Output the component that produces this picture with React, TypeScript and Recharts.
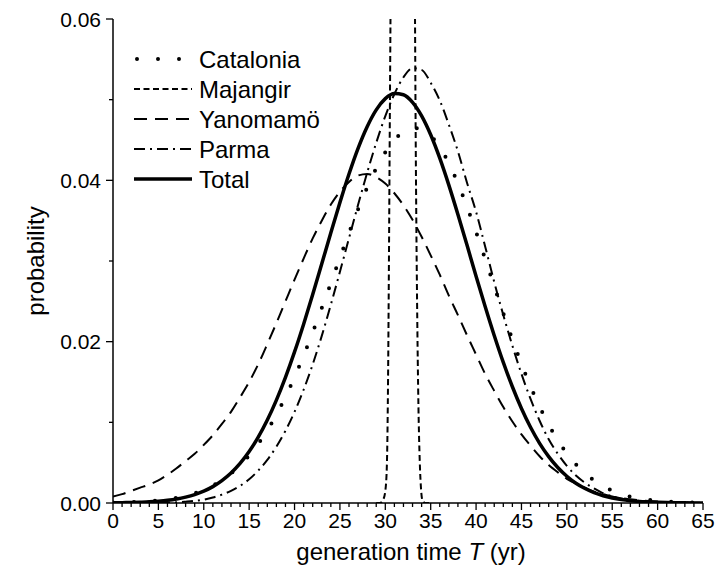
import { LineChart, Line, XAxis, YAxis, Legend } from 'recharts';

const FONT = '"Liberation Sans", Arial, Helvetica, sans-serif';

// generation time T (yr), one point per year
const years = [
  0, 1, 2, 3, 4, 5, 6, 7, 8, 9, 10, 11, 12, 13, 14, 15, 16, 17, 18, 19, 20, 21, 22,
  23, 24, 25, 26, 27, 28, 29, 30, 31, 32, 33, 34, 35, 36, 37, 38, 39, 40, 41, 42, 43,
  44, 45, 46, 47, 48, 49, 50, 51, 52, 53, 54, 55, 56, 57, 58, 59, 60, 61, 62, 63, 64, 65,
];

const catalonia = [
  0.00005, 0.00007, 0.00011, 0.00016, 0.00023, 0.00033, 0.00047, 0.00065, 0.00089, 0.00121,
  0.00163, 0.00216, 0.00283, 0.00365, 0.00467, 0.00588, 0.00733, 0.00902, 0.01096, 0.01316,
  0.0156, 0.01827, 0.02114, 0.02416, 0.02726, 0.0304, 0.03347, 0.0364, 0.03909, 0.04149,
  0.04348, 0.045, 0.04602, 0.04647, 0.04634, 0.04554, 0.04411, 0.04211, 0.03962, 0.03674,
  0.03359, 0.03026, 0.02687, 0.02352, 0.02028, 0.01724, 0.01445, 0.01193, 0.00971, 0.00779,
  0.00616, 0.0048, 0.00369, 0.00279, 0.00208, 0.00153, 0.00111, 0.00079, 0.00056, 0.00039,
  0.00027, 0.00018, 0.00012, 0.00008, 0.00005, 0.00003,
];

const yanomamo = [
  0.0008, 0.0011, 0.0015, 0.0019, 0.0023, 0.0028, 0.0035, 0.0043, 0.0052, 0.0061,
  0.0072, 0.0084, 0.0098, 0.0113, 0.0131, 0.015, 0.0172, 0.0197, 0.0223, 0.025,
  0.0277, 0.0303, 0.0328, 0.035, 0.037, 0.0386, 0.0398, 0.0406, 0.0408, 0.0404,
  0.0396, 0.0384, 0.0369, 0.0351, 0.033, 0.0307, 0.0283, 0.0257, 0.0233, 0.0208,
  0.0184, 0.016, 0.0139, 0.0119, 0.0101, 0.0085, 0.0071, 0.0058, 0.0047, 0.0038,
  0.003, 0.0024, 0.0019, 0.0014, 0.0011, 0.0008, 0.0006, 0.00046, 0.00034, 0.00025,
  0.00018, 0.00013, 0.00009, 0.00006, 0.00004, 0.00003,
];

const parma = [
  0, 0.00001, 0.00001, 0.00001, 0.00002, 0.00003, 0.00004, 0.00008, 0.00016, 0.00026,
  0.00042, 0.00068, 0.00104, 0.0015, 0.00212, 0.00294, 0.00402, 0.00534, 0.00698, 0.00896,
  0.0113, 0.01404, 0.01718, 0.02072, 0.0246, 0.02866, 0.03282, 0.03696, 0.04094, 0.04466,
  0.04796, 0.0507, 0.05278, 0.0539, 0.0537, 0.0521, 0.0499, 0.0469, 0.0436, 0.0397,
  0.0361, 0.0318, 0.0274, 0.0233, 0.0195, 0.016, 0.0129, 0.0102, 0.0079, 0.0061,
  0.0046, 0.0034, 0.0025, 0.0018, 0.0012, 0.00084, 0.00057, 0.00038, 0.00025, 0.00016,
  0.0001, 0.00006, 0.00003, 0.00002, 0.00001, 0.00001,
];

const total = [
  0.00002, 0.00004, 0.00006, 0.0001, 0.00015, 0.00023, 0.00034, 0.0005, 0.00073, 0.00104,
  0.00147, 0.00203, 0.00277, 0.00371, 0.0049, 0.00637, 0.00816, 0.01028, 0.01276, 0.01558,
  0.01873, 0.02217, 0.02584, 0.02966, 0.0335, 0.03726, 0.04079, 0.04397, 0.04665, 0.04874,
  0.05013, 0.05076, 0.05061, 0.04967, 0.04799, 0.04565, 0.04275, 0.03941, 0.03577, 0.03197,
  0.02812, 0.02436, 0.02077, 0.01743, 0.01441, 0.01172, 0.00939, 0.0074, 0.00575, 0.0044,
  0.00331, 0.00245, 0.00179, 0.00128, 0.0009, 0.00063, 0.00043, 0.00029, 0.00019, 0.00013,
  0.00008, 0.00005, 0.00003, 0.00002, 0.00001, 0.00001,
];

// Majangir is very narrow and runs off the top of the plot
const majangirYears = [
  29.0, 29.4, 29.8, 30.05, 30.2, 30.3, 30.4, 30.5, 30.6, 30.8, 31.5, 32.0, 32.5,
  33.0, 33.25, 33.35, 33.5, 33.65, 33.8, 33.95, 34.1, 34.4, 35.0,
];
const majangirProb = [
  0, 0, 0.0005, 0.002, 0.006, 0.015, 0.03, 0.048, 0.065, 0.1, 0.25, 0.3, 0.25,
  0.12, 0.065, 0.045, 0.025, 0.012, 0.005, 0.0015, 0.0003, 0, 0,
];

const xTicks = [
  0, 1, 2, 3, 4, 5, 6, 7, 8, 9, 10, 11, 12, 13, 14, 15, 16, 17, 18, 19, 20, 21, 22,
  23, 24, 25, 26, 27, 28, 29, 30, 31, 32, 33, 34, 35, 36, 37, 38, 39, 40, 41, 42, 43,
  44, 45, 46, 47, 48, 49, 50, 51, 52, 53, 54, 55, 56, 57, 58, 59, 60, 61, 62, 63, 64, 65,
];
const yTicks = [0, 0.01, 0.02, 0.03, 0.04, 0.05, 0.06];

const series = [
  { key: 'catalonia', name: 'Catalonia', width: 4, dash: '0 21', cap: 'round' },
  { key: 'majangir', name: 'Majangir', width: 2, dash: '6 3.5', cap: 'butt' },
  { key: 'yanomamo', name: 'Yanomamö', width: 2, dash: '13 8', cap: 'butt' },
  { key: 'parma', name: 'Parma', width: 2, dash: '11 5 2 5', cap: 'butt' },
  { key: 'total', name: 'Total', width: 3.5, dash: undefined, cap: 'butt' },
];

const rows = years.map((t, i) => ({
  t,
  catalonia: catalonia[i],
  yanomamo: yanomamo[i],
  parma: parma[i],
  total: total[i],
}));
const majangirRows = majangirYears.map((t, i) => ({ t, majangir: majangirProb[i] }));

const isMajorX = (v: number) => v % 5 === 0;
const isMajorY = (v: number) => Math.round(v * 100) % 2 === 0;

function BottomTick({ x, y, payload }: any) {
  const major = isMajorX(payload.value);
  return (
    <g>
      <line x1={x} y1={y} x2={x} y2={y + (major ? 7 : 4)} stroke="#000" strokeWidth={1.3} />
      {major && (
        <text x={x} y={y + 25} textAnchor="middle" fontSize={21} fontFamily={FONT} fill="#000">
          {payload.value}
        </text>
      )}
    </g>
  );
}

function TopTick({ x, y, payload }: any) {
  const major = isMajorX(payload.value);
  return <line x1={x} y1={y} x2={x} y2={y + (major ? 7 : 4)} stroke="#000" strokeWidth={1.3} />;
}

function LeftTick({ x, y, payload }: any) {
  const major = isMajorY(payload.value);
  return (
    <g>
      <line x1={x - (major ? 7 : 4)} y1={y} x2={x} y2={y} stroke="#000" strokeWidth={1.3} />
      {major && (
        <text x={x - 12} y={y + 7.5} textAnchor="end" fontSize={21} fontFamily={FONT} fill="#000">
          {payload.value.toFixed(2)}
        </text>
      )}
    </g>
  );
}

function RightTick({ x, y, payload }: any) {
  const major = isMajorY(payload.value);
  return <line x1={x - (major ? 7 : 4)} y1={y} x2={x} y2={y} stroke="#000" strokeWidth={1.3} />;
}

const XTitle = (props: any) => {
  const vb = props.viewBox || { x: 113, y: 503, width: 590, height: 67 };
  return (
    <text x={vb.x + vb.width / 2 + 3} y={vb.y + 57} textAnchor="middle" fontSize={24} fontFamily={FONT} fill="#000">
      generation time <tspan fontStyle="italic">T</tspan> (yr)
    </text>
  );
};

const YTitle = (props: any) => {
  const vb = props.viewBox || { x: 0, y: 19, width: 113, height: 484 };
  const cx = vb.x + 36;
  const cy = vb.y + vb.height / 2;
  return (
    <text transform={`translate(${cx},${cy}) rotate(-90)`} y={8} textAnchor="middle" fontSize={24} fontFamily={FONT} fill="#000">
      probability
    </text>
  );
};

const renderLegend = () => (
  <svg width={240} height={160}>
    {series.map((s, i) => {
      const cy = 15 + i * 30;
      return (
        <g key={s.key}>
          <line
            x1={s.key === 'catalonia' ? 9 : 6}
            y1={cy}
            x2={64}
            y2={cy}
            stroke="#000"
            strokeWidth={s.width}
            strokeDasharray={s.dash}
            strokeLinecap={s.cap as any}
          />
          <text x={71} y={cy + 8.5} fontSize={24} fontFamily={FONT} fill="#000">
            {s.name}
          </text>
        </g>
      );
    })}
  </svg>
);

const axisLine = { stroke: '#000', strokeWidth: 1.5 };

export default function App() {
  return (
    <div style={{ width: 715, height: 570, background: '#fff' }}>
      <style>{'body{margin:0}'}</style>
      <LineChart width={715} height={570} margin={{ top: 19, right: 12, bottom: 0, left: 0 }}>
        <XAxis
          xAxisId="b"
          dataKey="t"
          type="number"
          domain={[0, 65]}
          ticks={xTicks}
          interval={0}
          allowDataOverflow
          height={67}
          tickSize={0}
          tickMargin={0}
          tickLine={false}
          axisLine={axisLine}
          tick={<BottomTick />}
          label={{ content: XTitle }}
        />
        <XAxis
          xAxisId="t"
          orientation="top"
          type="number"
          domain={[0, 65]}
          ticks={xTicks}
          interval={0}
          allowDataOverflow
          height={0}
          tickSize={0}
          tickMargin={0}
          tickLine={false}
          axisLine={axisLine}
          tick={<TopTick />}
        />
        <YAxis
          yAxisId="l"
          type="number"
          domain={[0, 0.06]}
          ticks={yTicks}
          interval={0}
          allowDataOverflow
          width={113}
          tickSize={0}
          tickMargin={0}
          tickLine={false}
          axisLine={axisLine}
          tick={<LeftTick />}
          label={{ content: YTitle }}
        />
        <YAxis
          yAxisId="r"
          orientation="right"
          type="number"
          domain={[0, 0.06]}
          ticks={yTicks}
          interval={0}
          allowDataOverflow
          width={0}
          tickSize={0}
          tickMargin={0}
          tickLine={false}
          axisLine={axisLine}
          tick={<RightTick />}
        />
        <Legend
          layout="vertical"
          align="center"
          verticalAlign="middle"
          wrapperStyle={{ left: 128, top: 44, width: 240, height: 160 }}
          content={renderLegend}
        />
        {series.map((s) => (
          <Line
            key={s.key}
            xAxisId="b"
            yAxisId="l"
            data={s.key === 'majangir' ? majangirRows : rows}
            dataKey={s.key}
            name={s.name}
            type="monotone"
            stroke="#000"
            strokeWidth={s.width}
            strokeDasharray={s.dash}
            strokeLinecap={s.cap as any}
            dot={false}
            activeDot={false}
            isAnimationActive={false}
          />
        ))}
      </LineChart>
    </div>
  );
}
